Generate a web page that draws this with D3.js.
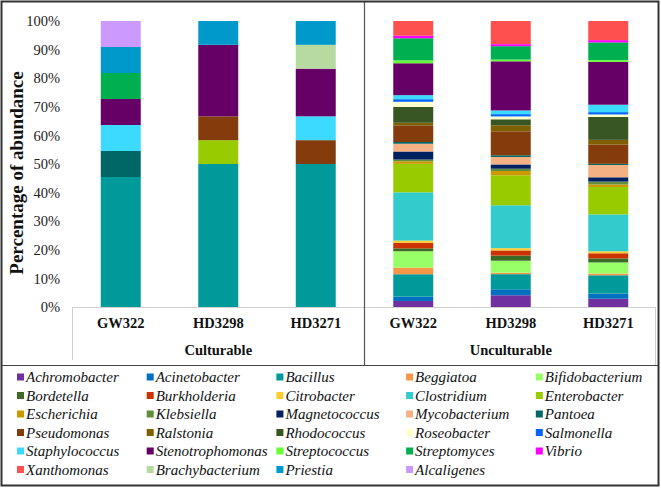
<!DOCTYPE html>
<html>
<head>
<meta charset="utf-8">
<script src="https://cdn.jsdelivr.net/npm/d3@7"></script>
<style>
  html, body { margin: 0; padding: 0; background: #fff; }
  svg { display: block; }
</style>
</head>
<body>
<svg id="chart" width="661" height="488"></svg>
<script>
// ---------- DATA ----------
const categories = ["c-GW322", "c-HD3298", "c-HD3271", "u-GW322", "u-HD3298", "u-HD3271"];
const categoryLabels = ["GW322", "HD3298", "HD3271", "GW322", "HD3298", "HD3271"];
const groupLabels = ["Culturable", "Unculturable"];

const species = ["Achromobacter","Acinetobacter","Bacillus","Beggiatoa","Bifidobacterium",
  "Bordetella","Burkholderia","Citrobacter","Clostridium","Enterobacter",
  "Escherichia","Klebsiella","Magnetococcus","Mycobacterium","Pantoea",
  "Pseudomonas","Ralstonia","Rhodococcus","Roseobacter","Salmonella",
  "Staphylococcus","Stenotrophomonas","Streptococcus","Streptomyces","Vibrio",
  "Xanthomonas","Brachybacterium","Priestia","Alcaligenes"];

const colors = ["#7030A0","#0070C0","#009A9A","#F79646","#99FF66",
  "#3B6B27","#CC3300","#FFCC33","#33CCCC","#99CC00",
  "#CC9900","#5F8F3A","#002060","#F4B183","#006666",
  "#843C0C","#7F6000","#375623","#FFFFCC","#0066FF",
  "#3DDAFF","#660066","#66FF33","#00B050","#FF00FF",
  "#FF5050","#B7DAA0","#0099CC","#CC99FF"];

// percentage values per sample, in species order
const culturableGW322  = [0,0,45.45,0,0, 0,0,0,0,0, 0,0,0,0,9.09, 0,0,0,0,0, 9.09,9.09,0,9.09,0, 0,0,9.09,9.09];
const culturableHD3298 = [0,0,50,0,0, 0,0,0,0,8.33, 0,0,0,0,0, 8.33,0,0,0,0, 0,25,0,0,0, 0,0,8.33,0];
const culturableHD3271 = [0,0,50,0,0, 0,0,0,0,0, 0,0,0,0,0, 8.33,0,0,0,0, 8.33,16.67,0,0,0, 0,8.33,8.33,0];
const unculturableGW322  = [2.1,1.5,7.8,2.3,5.7, 1.0,1.9,0.8,16.8,9.9, 0.9,0.6,2.8,2.7,0.6, 5.8,0.9,5.5,1.8,0.9, 1.4,11.1,1.0,7.7,0.9, 5.1,0,0,0];
const unculturableHD3298 = [4.1,2.1,5.3,0.5,4.2, 1.8,1.8,0.8,15.0,10.5, 1.5,0.8,1.5,2.6,0.6, 8.4,2.1,2.1,1.0,0.8, 1.3,17.2,0.6,4.7,0.7, 8.1,0,0,0];
const unculturableHD3271 = [2.9,1.8,6.4,0.6,3.9, 1.4,1.8,0.7,12.9,9.6, 0.9,1.0,1.5,4.3,0.4, 6.8,1.6,8.0,0.9,0.8, 2.6,15.0,0.6,6.2,0.8, 6.7,0,0,0];

const yTicks = [0,0.1,0.2,0.3,0.4,0.5,0.6,0.7,0.8,0.9,1.0];

// ---------- BUILD ----------
const sampleValues = [culturableGW322, culturableHD3298, culturableHD3271,
                      unculturableGW322, unculturableHD3298, unculturableHD3271];
const table = categories.map((c, i) => {
  const row = { cat: c };
  species.forEach((s, j) => row[s] = sampleValues[i][j]);
  return row;
});

const FONT = "'Liberation Serif'";
const svg = d3.select("#chart");

const x = d3.scaleBand().domain(categories).range([72, 657]).paddingInner(0.59).paddingOuter(0.295);
const y = d3.scaleLinear().domain([0, 1]).range([307, 21]);
const color = d3.scaleOrdinal().domain(species).range(colors);

const stacked = d3.stack().keys(species).offset(d3.stackOffsetExpand)(table);

svg.append("g").selectAll("g").data(stacked).join("g")
  .attr("fill", d => color(d.key))
  .selectAll("rect").data(d => d).join("rect")
  .attr("x", d => x(d.data.cat))
  .attr("width", x.bandwidth())
  .attr("y", d => y(d[1]))
  .attr("height", d => Math.max(0, y(d[0]) - y(d[1])));

// y axis
const yAxis = svg.append("g").attr("transform", "translate(62,0)")
  .call(d3.axisLeft(y).tickValues(yTicks).tickFormat(d3.format(".0%")).tickSize(0).tickPadding(2));
yAxis.select(".domain").remove();
yAxis.selectAll("text").style("font-family", FONT).style("font-size", "14.5px").attr("fill", "#222");

svg.append("text")
  .attr("transform", "translate(23,173) rotate(-90)")
  .attr("text-anchor", "middle")
  .style("font-family", FONT).style("font-weight", "bold").style("font-size", "19px")
  .attr("fill", "#111")
  .text("Percentage of abundance");

// x axis
const xAxis = svg.append("g").attr("transform", "translate(0,307)")
  .call(d3.axisBottom(x).tickFormat((d, i) => categoryLabels[i]).tickSize(0).tickPadding(11));
xAxis.select(".domain").remove();
xAxis.selectAll("text").style("font-family", FONT).style("font-weight", "bold").style("font-size", "14.5px").attr("fill", "#111");

// category table lines
const lineGray = "#d0d0d0";
svg.append("line").attr("x1", 72).attr("x2", 655).attr("y1", 307.5).attr("y2", 307.5).attr("stroke", lineGray);
svg.append("line").attr("x1", 72.5).attr("x2", 72.5).attr("y1", 307).attr("y2", 360).attr("stroke", lineGray);
svg.append("line").attr("x1", 655.5).attr("x2", 655.5).attr("y1", 307).attr("y2", 365).attr("stroke", lineGray);
const midX = (x(categories[2]) + x.bandwidth() + x(categories[3])) / 2;
svg.append("line").attr("x1", midX).attr("x2", midX).attr("y1", 2).attr("y2", 365).attr("stroke", "#555").attr("stroke-width", 1.2);

// group labels
[[0, 2], [3, 5]].forEach((g, i) => {
  const cx = (x(categories[g[0]]) + x(categories[g[1]]) + x.bandwidth()) / 2;
  svg.append("text").attr("x", cx).attr("y", 355).attr("text-anchor", "middle")
    .style("font-family", FONT).style("font-weight", "bold").style("font-size", "14.5px").attr("fill", "#111")
    .text(groupLabels[i]);
});

// legend
svg.append("line").attr("x1", 2).attr("x2", 658).attr("y1", 365.5).attr("y2", 365.5).attr("stroke", "#444").attr("stroke-width", 1.2);
const legend = svg.append("g");
species.forEach((s, i) => {
  const col = i % 5, row = Math.floor(i / 5);
  const lx = 17 + col * 129.7, ly = 377 + row * 18.5;
  legend.append("rect").attr("x", lx).attr("y", ly - 3.5).attr("width", 7).attr("height", 7).attr("fill", color(s));
  legend.append("text").attr("x", lx + 9).attr("y", ly + 5)
    .style("font-family", FONT).style("font-style", "italic").style("font-size", "15px").attr("fill", "#111")
    .text(s);
});

// outer frame
svg.append("rect").attr("x", 1.5).attr("y", 1.5).attr("width", 657).attr("height", 484)
  .attr("fill", "none").attr("stroke", "#333").attr("stroke-width", 2);
</script>
</body>
</html>
